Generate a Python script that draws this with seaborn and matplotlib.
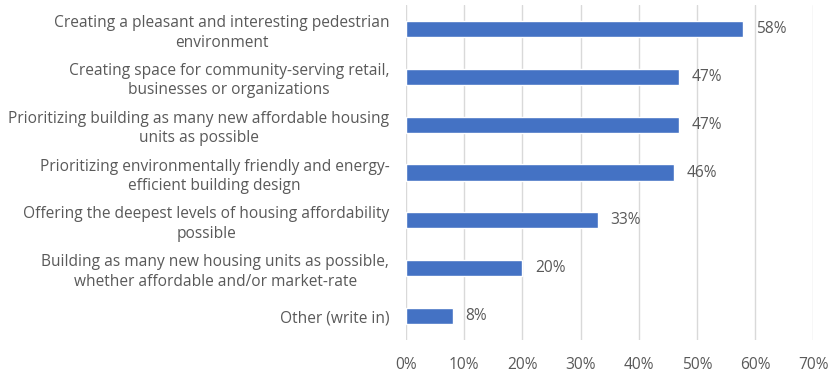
import matplotlib
matplotlib.use("Agg")
import matplotlib.pyplot as plt
import seaborn as sns
import pandas as pd
from matplotlib.ticker import PercentFormatter, MultipleLocator

categories = [
    "Creating a pleasant and interesting pedestrian\nenvironment",
    "Creating space for community-serving retail,\nbusinesses or organizations",
    "Prioritizing building as many new affordable housing\nunits as possible",
    "Prioritizing environmentally friendly and energy-\nefficient building design",
    "Offering the deepest levels of housing affordability\npossible",
    "Building as many new housing units as possible,\nwhether affordable and/or market-rate",
    "Other (write in)",
]
values = [58, 47, 47, 46, 33, 20, 8]

df = pd.DataFrame({"category": categories, "share": values})

sns.set_theme(style="white")
plt.rcParams["font.family"] = ["Open Sans", "DejaVu Sans"]

text_color = "#595959"
bar_color = "#4472C4"
grid_color = "#D9D9D9"

fig = plt.figure(figsize=(8.29, 3.74), dpi=100)
ax = fig.add_axes([0.4897, 0.0909, 0.4914, 0.8957])

sns.barplot(data=df, x="share", y="category", orient="h", color=bar_color,
            width=0.34, saturation=1, ax=ax, zorder=3)

ax.set_xlim(0, 70)
ax.set_ylim(len(categories) - 0.5, -0.5)
ax.xaxis.set_major_locator(MultipleLocator(10))
ax.xaxis.set_major_formatter(PercentFormatter(decimals=0))
ax.grid(axis="x", color=grid_color, linewidth=1, zorder=0)
ax.grid(axis="y", visible=False)
for s in ax.spines.values():
    s.set_visible(False)

ax.set_xlabel("")
ax.set_ylabel("")
ax.tick_params(axis="x", length=0, pad=12, labelsize=11.2, labelcolor=text_color)
ax.tick_params(axis="y", length=0, pad=12, labelsize=11.2, labelcolor=text_color)
for lbl in ax.get_yticklabels():
    lbl.set_multialignment("center")
    lbl.set_linespacing(1.3)

for container in ax.containers:
    ax.bar_label(container, labels=[f"{v:.0f}%" for v in values], padding=9,
                 fontsize=11.2, color=text_color)

fig.savefig("out.png", dpi=100)
